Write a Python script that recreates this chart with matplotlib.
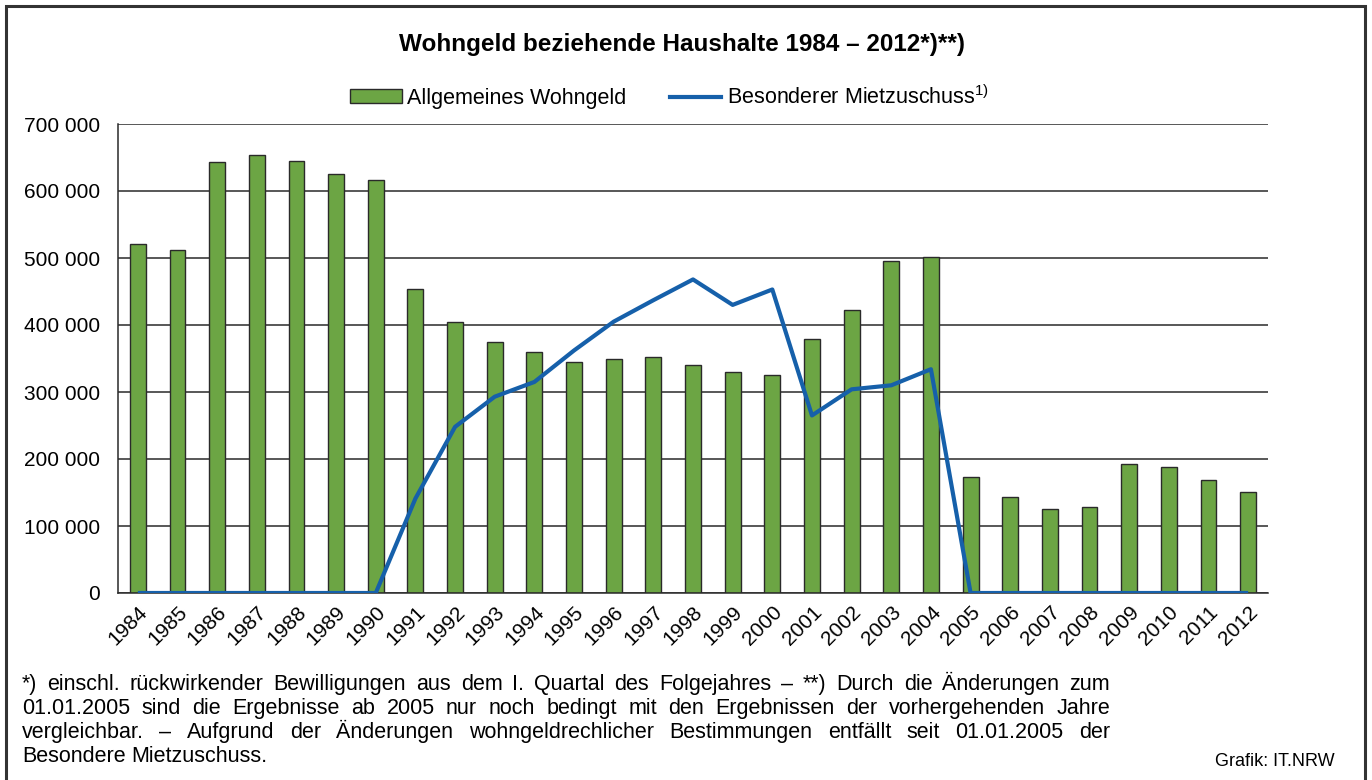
import numpy as np
import matplotlib
matplotlib.use("Agg")
import matplotlib.pyplot as plt
from matplotlib.patches import Rectangle, Patch
from matplotlib.lines import Line2D
from matplotlib.ticker import FuncFormatter

plt.rcParams['font.family'] = ['Liberation Sans', 'DejaVu Sans']
plt.rcParams['mathtext.fontset'] = 'custom'
plt.rcParams['mathtext.rm'] = 'Liberation Sans'
plt.rcParams['mathtext.it'] = 'Liberation Sans'

years = [str(y) for y in range(1984, 2013)]
wohngeld = [521000, 512000, 643000, 653000, 645000, 625000, 616000,
            454000, 404000, 375000, 359000, 345000, 349000, 352000,
            341000, 330000, 325000, 379000, 423000, 496000, 502000,
            173000, 144000, 126000, 128000, 193000, 188000, 168000, 151000]
mietzuschuss = [0, 0, 0, 0, 0, 0, 0,
                141000, 248000, 293000, 315000, 362000, 405000, 437000,
                468000, 430000, 453000, 265000, 304000, 310000, 334000,
                0, 0, 0, 0, 0, 0, 0, 0]

footnote = [
    "*) einschl. rückwirkender Bewilligungen aus dem I. Quartal des Folgejahres – **) Durch die Änderungen zum",
    "01.01.2005 sind die Ergebnisse ab 2005 nur noch bedingt mit den Ergebnissen der vorhergehenden Jahre",
    "vergleichbar. – Aufgrund der Änderungen wohngeldrechlicher Bestimmungen entfällt seit 01.01.2005 der",
    "Besondere Mietzuschuss.",
]

green = '#6ca544'
blue = '#1660aa'
dark = '#2a2a2a'

W, H = 1372, 780
fig = plt.figure(figsize=(W / 100, H / 100), dpi=100)
ax = fig.add_axes([118 / W, 1 - 593 / H, (1268 - 118) / W, (593 - 124) / H])

x = np.arange(len(years))
ax.bar(x, wohngeld, width=0.4, color=green, edgecolor=dark, linewidth=1.0, zorder=2)
ax.plot(x, mietzuschuss, color=blue, linewidth=3.0, zorder=3, solid_capstyle='butt')

ax.set_xlim(-0.5, len(years) - 0.5)
ax.set_ylim(0, 700000)
ax.set_yticks(np.arange(0, 700001, 100000))
ax.yaxis.set_major_formatter(FuncFormatter(lambda v, p: f"{int(v):,}".replace(",", " ")))
ax.yaxis.grid(True, color=dark, linewidth=1.1, zorder=0)
ax.set_axisbelow(True)
ax.set_xticks(x)
ax.set_xticklabels(years, rotation=45, ha='right', rotation_mode='anchor')
ax.tick_params(axis='x', length=0, pad=7, labelsize=15)
ax.tick_params(axis='y', length=0, pad=13, labelsize=15)
for s in ['top', 'right']:
    ax.spines[s].set_visible(False)
for s in ['left', 'bottom']:
    ax.spines[s].set_color(dark)
    ax.spines[s].set_linewidth(1.1)

fig.text(0.497, 1 - 45 / H, "Wohngeld beziehende Haushalte 1984 – 2012*)**)",
         ha='center', va='center', fontsize=17.5, fontweight='bold')

handles = [Patch(facecolor=green, edgecolor=dark, linewidth=1.0),
           Line2D([0], [0], color=blue, linewidth=3.0)]
fig.legend(handles, ["Allgemeines Wohngeld", "Besonderer Mietzuschuss$^{1)}$"],
           loc='center', bbox_to_anchor=(0.488, 1 - 97 / H), ncol=2, frameon=False,
           fontsize=15.5, handlelength=2.4, handleheight=0.6, handletextpad=0.25,
           columnspacing=2.0)

# justified footnote
renderer = fig.canvas.get_renderer()
x0, x1 = 22, 1110
line_base = [690, 714, 738, 762]
fs = 15.5
for i, line in enumerate(footnote):
    words = line.split(" ")
    texts = [fig.text(0, 1 - line_base[i] / H, w, fontsize=fs, va='baseline', ha='left')
             for w in words]
    widths = [t.get_window_extent(renderer).width for t in texts]
    if i < len(footnote) - 1:
        gap = (x1 - x0 - sum(widths)) / (len(words) - 1)
    else:
        gap = fs * 0.278 * 100 / 72
    pos = x0
    for t, w in zip(texts, widths):
        t.set_x(pos / W)
        pos += w + gap

fig.text(1335 / W, 1 - 762 / H, "Grafik: IT.NRW", ha='right', va='center', fontsize=13)

fig.patches.append(Rectangle((6 / W, -0.05), (1365 - 6) / W, 1.05 - 6 / H,
                             transform=fig.transFigure, fill=False,
                             edgecolor='#333333', linewidth=2.2))

fig.savefig("out.png", dpi=100)
